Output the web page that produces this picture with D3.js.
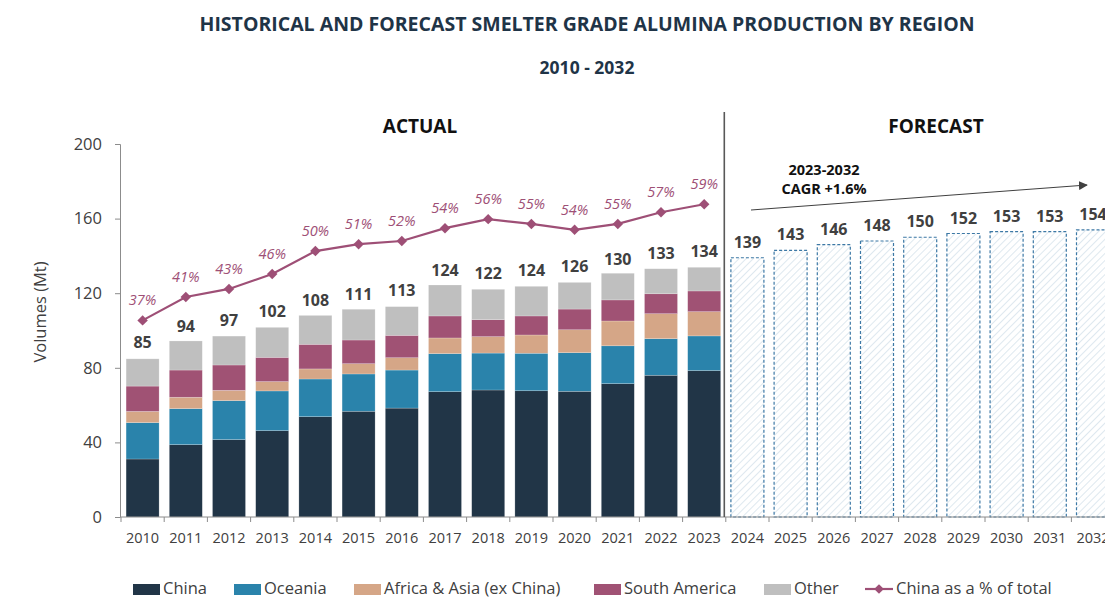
<!DOCTYPE html>
<html>
<head>
<meta charset="utf-8">
<script src="https://cdn.jsdelivr.net/npm/d3@7"></script>
<style>
body { margin: 0; background: #fff; }
svg { display: block; font-family: 'Open Sans', 'Noto Sans', sans-serif; }
</style>
</head>
<body>
<div id="container"></div>
<script>
// actual years 2010 - 2023, values in Mt
const actualYears = ['2010','2011','2012','2013','2014','2015','2016','2017','2018','2019','2020','2021','2022','2023'];
const china        = [31.1, 38.8, 41.5, 46.3, 53.8, 56.7, 58.4, 67.2, 68.1, 67.7, 67.4, 71.5, 76.0, 78.5];
const oceania      = [19.5, 19.3, 20.9, 21.3, 20.2, 20.0, 20.4, 20.4, 19.8, 20.1, 20.7, 20.3, 19.6, 18.6];
const africaAsia   = [ 6.0,  6.1,  5.5,  5.0,  5.4,  5.5,  6.6,  8.4,  8.8,  9.8, 12.3, 13.3, 13.4, 13.0];
const southAmerica = [13.6, 14.6, 13.6, 13.0, 13.2, 12.7, 12.0, 11.8,  9.1, 10.2, 11.1, 11.3, 10.7, 11.1];
const other        = [14.6, 15.6, 15.5, 16.1, 15.5, 16.5, 15.4, 16.6, 16.3, 15.9, 14.3, 14.3, 13.4, 12.7];
const actualTotals = [85, 94, 97, 102, 108, 111, 113, 124, 122, 124, 126, 130, 133, 134];
const chinaShare   = [0.369, 0.413, 0.428, 0.456, 0.499, 0.512, 0.518, 0.542, 0.559, 0.550, 0.539, 0.550, 0.572, 0.587];

// forecast years 2024 - 2032
const forecastYears  = ['2024','2025','2026','2027','2028','2029','2030','2031','2032'];
const forecastTotals = [139, 143, 146, 148, 150, 152, 153, 153, 154];

const seriesNames  = ['China', 'Oceania', 'Africa & Asia (ex China)', 'South America', 'Other'];
const seriesColors = ['#213547', '#2a83ab', '#d5a687', '#a05274', '#bfbfbf'];
const yTicks = [0, 40, 80, 120, 160, 200];

const W = 1105, H = 598;
const lineColor = '#9e4f76';
const textColor = '#404040';

const svg = d3.select('#container').append('svg')
	.attr('width', W).attr('height', H);

const allYears = actualYears.concat(forecastYears);
const x = d3.scaleBand()
	.domain(allYears)
	.range([121, 121 + allYears.length * 43.2])
	.paddingInner(0.236)
	.paddingOuter(0.118);
const y = d3.scaleLinear().domain([0, 200]).range([517, 144]);
const y2 = d3.scaleLinear().domain([0, 0.7]).range([517, 144]); // hidden secondary axis

// hatch pattern for forecast
const defs = svg.append('defs');
const pat = defs.append('pattern')
	.attr('id', 'hatch')
	.attr('patternUnits', 'userSpaceOnUse')
	.attr('width', 5).attr('height', 5)
	.attr('patternTransform', 'rotate(45)');
pat.append('rect').attr('width', 5).attr('height', 5).attr('fill', '#ffffff');
pat.append('line').attr('x1', 0).attr('y1', 0).attr('x2', 0).attr('y2', 5)
	.attr('stroke', '#d6e3ec').attr('stroke-width', 1.6);

// titles
svg.append('text')
	.attr('x', 587).attr('y', 31)
	.attr('text-anchor', 'middle')
	.style('font-size', '19.5px').style('font-weight', 'bold').style('fill', '#1f3447')
	.text('HISTORICAL AND FORECAST SMELTER GRADE ALUMINA PRODUCTION BY REGION');
svg.append('text')
	.attr('x', 587).attr('y', 74)
	.attr('text-anchor', 'middle')
	.style('font-size', '17.5px').style('font-weight', 'bold').style('fill', '#1f3447')
	.text('2010 - 2032');

// stacked data
const rows = actualYears.map((yr, i) => ({
	year: yr,
	'China': china[i],
	'Oceania': oceania[i],
	'Africa & Asia (ex China)': africaAsia[i],
	'South America': southAmerica[i],
	'Other': other[i],
}));
const stacked = d3.stack().keys(seriesNames)(rows);

svg.append('g').selectAll('g')
	.data(stacked)
	.enter().append('g')
	.attr('fill', (d, i) => seriesColors[i])
	.selectAll('rect')
	.data(d => d)
	.enter().append('rect')
	.attr('x', d => x(d.data.year))
	.attr('y', d => y(d[1]))
	.attr('width', x.bandwidth())
	.attr('height', d => y(d[0]) - y(d[1]))
	.attr('stroke', '#ffffff').attr('stroke-opacity', 0.35).attr('stroke-width', 0.6);

// forecast bars
svg.append('g').selectAll('rect')
	.data(forecastYears)
	.enter().append('rect')
	.attr('x', d => x(d))
	.attr('y', (d, i) => y(forecastTotals[i]))
	.attr('width', x.bandwidth())
	.attr('height', (d, i) => y(0) - y(forecastTotals[i]))
	.attr('fill', 'url(#hatch)')
	.attr('stroke', '#3c78a5')
	.attr('stroke-width', 1.2)
	.attr('stroke-dasharray', '3,2');

// total labels
const totalLabel = (yrs, vals) => svg.append('g').selectAll('text')
	.data(yrs)
	.enter().append('text')
	.attr('x', d => x(d) + x.bandwidth() / 2)
	.attr('y', (d, i) => y(vals[i]) - 10)
	.attr('text-anchor', 'middle')
	.style('font-size', '16px').style('font-weight', 'bold').style('fill', textColor)
	.text((d, i) => vals[i]);
totalLabel(actualYears, actualTotals);
totalLabel(forecastYears, forecastTotals);

// china share line
const line = d3.line()
	.x((d, i) => x(actualYears[i]) + x.bandwidth() / 2)
	.y(d => y2(d));
svg.append('path')
	.datum(chinaShare)
	.attr('d', line)
	.attr('fill', 'none')
	.attr('stroke', lineColor)
	.attr('stroke-width', 2.2);
svg.append('g').selectAll('path')
	.data(chinaShare)
	.enter().append('path')
	.attr('d', d3.symbol().type(d3.symbolDiamond2).size(70))
	.attr('transform', (d, i) => `translate(${x(actualYears[i]) + x.bandwidth() / 2}, ${y2(d)})`)
	.attr('fill', lineColor);
svg.append('g').selectAll('text')
	.data(chinaShare)
	.enter().append('text')
	.attr('x', (d, i) => x(actualYears[i]) + x.bandwidth() / 2)
	.attr('y', d => y2(d) - 15)
	.attr('text-anchor', 'middle')
	.style('font-size', '14.5px').style('font-style', 'italic').style('fill', lineColor)
	.text(d => d3.format('.0%')(d));

// y axis
const yAxis = svg.append('g')
	.attr('transform', 'translate(120,0)')
	.call(d3.axisLeft(y).tickValues(yTicks).tickSize(5).tickPadding(13));
yAxis.select('.domain').attr('stroke', '#8c8c8c');
yAxis.selectAll('.tick line').attr('stroke', '#8c8c8c');
yAxis.selectAll('.tick text')
	.style('font-size', '16.5px').style('fill', textColor).style('font-family', "'Open Sans', sans-serif");

svg.append('text')
	.attr('transform', 'translate(46,312) rotate(-90)')
	.attr('text-anchor', 'middle')
	.style('font-size', '16.5px').style('fill', textColor)
	.text('Volumes (Mt)');

// x axis
const xAxis = svg.append('g')
	.attr('transform', 'translate(0,517)');
xAxis.append('line')
	.attr('x1', x.range()[0]).attr('x2', x.range()[1])
	.attr('stroke', '#8c8c8c');
xAxis.selectAll('line.tk')
	.data(allYears.concat(['end']))
	.enter().append('line')
	.attr('class', 'tk')
	.attr('x1', (d, i) => x.range()[0] + i * x.step())
	.attr('x2', (d, i) => x.range()[0] + i * x.step())
	.attr('y1', 0).attr('y2', 5)
	.attr('stroke', '#8c8c8c');
xAxis.selectAll('text')
	.data(allYears)
	.enter().append('text')
	.attr('x', d => x(d) + x.bandwidth() / 2)
	.attr('y', 26)
	.attr('text-anchor', 'middle')
	.style('font-size', '14.5px').style('fill', textColor)
	.text(d => d);

// actual / forecast divider
const divX = x.range()[0] + actualYears.length * x.step() - 1.5;
svg.append('line')
	.attr('x1', divX).attr('x2', divX)
	.attr('y1', 112).attr('y2', 517)
	.attr('stroke', '#595959').attr('stroke-width', 1.6);
svg.append('text')
	.attr('x', 420).attr('y', 133)
	.attr('text-anchor', 'middle')
	.style('font-size', '19px').style('font-weight', 'bold').style('fill', '#111')
	.text('ACTUAL');
svg.append('text')
	.attr('x', 936).attr('y', 133)
	.attr('text-anchor', 'middle')
	.style('font-size', '19px').style('font-weight', 'bold').style('fill', '#111')
	.text('FORECAST');

// CAGR arrow
defs.append('marker')
	.attr('id', 'arrow')
	.attr('viewBox', '0 0 10 10')
	.attr('refX', 9).attr('refY', 5)
	.attr('markerWidth', 9).attr('markerHeight', 9)
	.attr('markerUnits', 'userSpaceOnUse')
	.attr('orient', 'auto')
	.append('path').attr('d', 'M0,0 L10,5 L0,10 z').attr('fill', '#404040');
svg.append('line')
	.attr('x1', 751).attr('y1', 210)
	.attr('x2', 1087).attr('y2', 185)
	.attr('stroke', '#404040').attr('stroke-width', 1)
	.attr('marker-end', 'url(#arrow)');
svg.append('text')
	.attr('x', 824).attr('y', 175)
	.attr('text-anchor', 'middle')
	.style('font-size', '14.5px').style('font-weight', 'bold').style('fill', '#111')
	.text('2023-2032');
svg.append('text')
	.attr('x', 824).attr('y', 194)
	.attr('text-anchor', 'middle')
	.style('font-size', '14.5px').style('font-weight', 'bold').style('fill', '#111')
	.text('CAGR +1.6%');

// legend
const legendX = [133, 234, 354, 594, 764];
const legend = svg.append('g');
seriesNames.forEach((name, i) => {
	legend.append('rect')
		.attr('x', legendX[i]).attr('y', 584)
		.attr('width', 27).attr('height', 11)
		.attr('fill', seriesColors[i]);
	legend.append('text')
		.attr('x', legendX[i] + 30).attr('y', 594)
		.style('font-size', '16.5px').style('fill', textColor)
		.text(name);
});
legend.append('line')
	.attr('x1', 865).attr('x2', 893).attr('y1', 589).attr('y2', 589)
	.attr('stroke', lineColor).attr('stroke-width', 2.2);
legend.append('path')
	.attr('d', d3.symbol().type(d3.symbolDiamond2).size(60))
	.attr('transform', 'translate(879,589)')
	.attr('fill', lineColor);
legend.append('text')
	.attr('x', 896).attr('y', 594)
	.style('font-size', '16.5px').style('fill', textColor)
	.text('China as a % of total');
</script>
</body>
</html>
